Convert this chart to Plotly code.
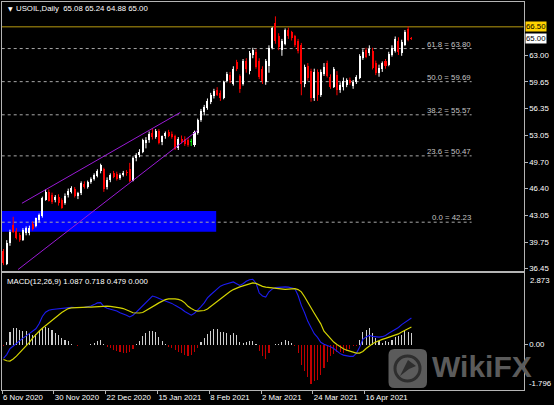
import plotly.graph_objects as go

W, H = 554, 405

# ---------------- data ----------------
tick_bars = [0, 16, 32, 48, 64, 80, 96, 112]
tick_labels = ["6 Nov 2020", "30 Nov 2020", "22 Dec 2020", "15 Jan 2021",
               "8 Feb 2021", "2 Mar 2021", "24 Mar 2021", "16 Apr 2021"]
price_ticks = [63.00, 59.65, 56.35, 53.05, 49.70, 46.40, 43.05, 39.75, 36.45]

opens = [38.6, 37.1, 39.6, 41.9, 41.1, 40.6, 40.0, 40.9, 40.9, 42.0,
         41.8, 42.5, 43.0, 45.0, 46.0, 45.6, 45.0, 45.4, 45.0, 44.6,
         45.6, 46.0, 46.3, 45.5, 45.9, 47.0, 46.6, 47.2, 47.6, 48.0,
         48.6, 48.9, 46.6, 47.5, 48.3, 48.2, 47.7, 48.1, 48.5, 48.9,
         47.4, 50.2, 50.6, 50.9, 52.1, 52.4, 53.3, 52.8, 53.6, 52.2,
         52.9, 53.4, 53.2, 52.9, 51.4, 52.6, 52.6, 52.4, 52.2, 51.8,
         53.3, 54.9, 55.9, 56.4, 57.2, 57.9, 58.7, 58.3, 57.7, 59.8,
         60.5, 59.4, 62.1, 60.4, 59.4, 62.3, 61.0, 63.0, 63.4, 62.3,
         61.3, 59.6, 61.6, 63.9, 67.0, 65.4, 63.6, 64.4, 66.1, 65.8,
         65.3, 64.8, 64.2, 59.4, 61.6, 61.0, 57.7, 60.9, 58.0, 60.7,
         62.0, 60.3, 59.0, 60.5, 58.7, 59.0, 59.3, 59.9, 59.2, 59.6,
         60.2, 62.6, 63.6, 63.2, 63.5, 62.0, 60.8, 61.2, 62.2, 61.8,
         63.0, 63.5, 64.8, 63.3, 64.3, 66.2, 65.08]
highs = [38.9, 40.0, 41.3, 42.9, 41.5, 40.9, 41.5, 41.7, 41.8, 42.3,
         42.8, 43.3, 45.4, 46.3, 46.3, 45.9, 45.6, 45.7, 45.2, 45.8,
         46.4, 46.7, 46.6, 46.0, 47.3, 47.3, 47.4, 47.8, 48.3, 48.8,
         49.5, 49.0, 47.8, 48.3, 48.6, 48.5, 48.3, 48.6, 48.7, 49.6,
         50.4, 50.8, 51.3, 52.6, 52.8, 53.5, 53.9, 53.8, 53.8, 53.0,
         53.5, 53.7, 53.5, 53.1, 52.8, 53.0, 52.9, 52.7, 52.6, 53.6,
         55.1, 56.3, 56.8, 57.6, 58.3, 58.8, 59.0, 58.6, 59.8, 60.9,
         60.9, 61.6, 62.4, 60.6, 62.5, 62.6, 63.5, 63.9, 63.7, 62.6,
         61.6, 62.5, 64.2, 66.5, 67.8, 65.7, 65.0, 66.3, 66.4, 66.0,
         65.5, 65.0, 64.5, 61.8, 62.0, 61.3, 61.3, 61.2, 61.2, 62.0,
         62.3, 60.6, 61.5, 61.0, 59.6, 60.2, 60.1, 60.2, 59.9, 60.5,
         63.1, 63.7, 63.9, 64.2, 63.9, 62.3, 61.8, 62.2, 62.5, 63.4,
         64.2, 65.3, 65.2, 64.9, 66.1, 66.55, 65.24]
lows = [36.9, 36.9, 39.3, 40.9, 40.1, 39.8, 39.9, 40.6, 40.6, 41.2,
        41.6, 42.2, 42.8, 44.9, 44.8, 44.5, 44.7, 44.3, 43.9, 44.4,
        45.3, 45.8, 45.3, 45.1, 45.6, 46.4, 46.4, 47.0, 47.4, 47.8,
        48.3, 46.0, 46.3, 47.2, 47.7, 47.4, 47.5, 47.9, 48.0, 47.2,
        47.3, 49.8, 50.3, 50.8, 51.4, 52.1, 52.5, 52.6, 51.9, 51.8,
        52.6, 52.8, 52.6, 51.2, 51.2, 52.0, 51.7, 51.6, 51.7, 51.6,
        53.1, 54.7, 55.5, 56.2, 56.9, 57.6, 57.9, 57.3, 57.5, 59.6,
        59.5, 59.2, 61.0, 58.3, 59.2, 60.8, 60.6, 62.6, 61.3, 60.0,
        59.4, 59.3, 60.8, 63.7, 64.4, 63.6, 62.9, 64.2, 65.0, 64.8,
        64.0, 63.2, 58.0, 59.0, 59.8, 57.2, 57.3, 57.3, 57.8, 60.4,
        60.2, 58.8, 58.9, 58.0, 58.3, 58.6, 59.0, 59.3, 58.8, 59.4,
        60.0, 62.4, 62.6, 62.9, 61.2, 60.5, 60.3, 60.9, 61.3, 61.6,
        62.8, 63.3, 63.0, 62.9, 64.1, 64.7, 64.88]
closes = [37.2, 39.7, 41.05, 41.05, 40.3, 40.0, 41.3, 41.5, 41.5, 41.4,
          42.7, 43.1, 45.2, 46.0, 44.9, 44.7, 45.4, 44.6, 44.0, 45.5,
          46.1, 46.5, 45.5, 45.8, 47.1, 46.6, 47.2, 47.6, 48.1, 48.6,
          49.3, 46.4, 47.5, 48.1, 47.9, 47.6, 48.1, 48.4, 48.3, 47.4,
          50.2, 50.6, 51.0, 52.4, 52.5, 53.2, 52.8, 53.6, 52.1, 52.9,
          53.3, 53.0, 52.8, 51.3, 52.6, 52.2, 51.9, 51.8, 52.2, 53.4,
          54.9, 56.0, 56.5, 57.3, 58.0, 58.5, 58.0, 57.6, 59.6, 60.6,
          59.9, 61.3, 61.3, 58.8, 62.3, 61.2, 63.3, 63.6, 61.5, 60.3,
          59.8, 62.2, 63.9, 66.3, 64.7, 64.0, 64.7, 66.1, 65.3, 65.1,
          64.2, 63.5, 59.4, 61.5, 60.2, 57.6, 60.9, 58.0, 60.9, 61.5,
          60.4, 59.0, 61.2, 58.6, 59.3, 59.8, 59.9, 59.5, 59.7, 60.3,
          62.9, 63.4, 62.8, 63.8, 61.4, 60.8, 61.4, 62.0, 61.6, 63.1,
          63.9, 65.0, 63.4, 64.6, 65.9, 64.9, 65.00]

macd_main = [-0.55, -0.40, -0.16, -0.05, 0.08, 0.18, 0.27, 0.36, 0.45, 0.55,
             0.65, 0.85, 1.15, 1.32, 1.40, 1.43, 1.45, 1.46, 1.48, 1.50,
             1.53, 1.52, 1.51, 1.50, 1.51, 1.52, 1.53, 1.57, 1.63, 1.70,
             1.71, 1.55, 1.48, 1.45, 1.41, 1.37, 1.30, 1.26, 1.20, 1.13,
             1.20, 1.32, 1.45, 1.60, 1.72, 1.85, 1.98, 1.94, 1.87, 1.83,
             1.78, 1.74, 1.68, 1.60, 1.53, 1.45, 1.35, 1.27, 1.20, 1.28,
             1.40, 1.55, 1.70, 1.90, 2.03, 2.15, 2.30, 2.38, 2.44, 2.48,
             2.52, 2.55, 2.48, 2.41, 2.48, 2.58, 2.64, 2.66, 2.50, 2.10,
             1.98, 1.94, 2.15, 2.26, 2.32, 2.34, 2.35, 2.35, 2.34, 2.32,
             2.28, 2.00, 1.60, 1.30, 0.95, 0.70, 0.45, 0.30, 0.10, 0.02,
             -0.02, -0.08, -0.15, -0.25, -0.36, -0.42, -0.46, -0.47, -0.47, -0.35,
             -0.10, 0.22, 0.32, 0.38, 0.34, 0.31, 0.31, 0.33, 0.38, 0.47,
             0.55, 0.62, 0.70, 0.82, 0.92, 1.02, 1.087]
macd_signal = [-0.60, -0.65, -0.66, -0.58, -0.46, -0.33, -0.17, -0.05, 0.10, 0.27,
               0.42, 0.55, 0.67, 0.78, 0.90, 1.01, 1.12, 1.22, 1.31, 1.39,
               1.47, 1.50, 1.51, 1.51, 1.52, 1.52, 1.53, 1.53, 1.54, 1.55,
               1.56, 1.57, 1.57, 1.56, 1.55, 1.53, 1.50, 1.47, 1.43, 1.36,
               1.30, 1.28, 1.29, 1.31, 1.38, 1.46, 1.54, 1.62, 1.70, 1.78,
               1.83, 1.86, 1.87, 1.86, 1.84, 1.80, 1.70, 1.56, 1.47, 1.40,
               1.37, 1.37, 1.39, 1.45, 1.55, 1.66, 1.77, 1.88, 1.98, 2.07,
               2.16, 2.24, 2.31, 2.35, 2.39, 2.43, 2.47, 2.51, 2.49, 2.42,
               2.37, 2.34, 2.32, 2.30, 2.28, 2.26, 2.25, 2.25, 2.26, 2.27,
               2.28, 2.24, 2.15, 1.95, 1.70, 1.50, 1.28, 1.05, 0.85, 0.55,
               0.40, 0.24, 0.11, 0.01, -0.09, -0.16, -0.22, -0.27, -0.32, -0.34,
               -0.34, -0.27, -0.15, -0.05, 0.04, 0.11, 0.18, 0.22, 0.26, 0.30,
               0.34, 0.40, 0.44, 0.52, 0.58, 0.64, 0.718]
macd_hist = [-0.05, 0.11, 0.51, 0.68, 0.68, 0.60, 0.57, 0.54, 0.46, 0.41,
             0.45, 0.54, 0.68, 0.74, 0.70, 0.61, 0.47, 0.38, 0.27, 0.20,
             0.14, 0.05, 0.01, -0.05, 0.0, 0.0, 0.01, 0.04, 0.08, 0.14,
             0.18, 0.05, -0.11, -0.15, -0.22, -0.27, -0.31, -0.34, -0.34, -0.31,
             -0.16, 0.05, 0.16, 0.34, 0.46, 0.54, 0.54, 0.51, 0.30, 0.14,
             0.03, -0.08, -0.14, -0.23, -0.30, -0.35, -0.41, -0.47, -0.43, -0.30,
             -0.14, 0.10, 0.27, 0.45, 0.57, 0.62, 0.65, 0.51, 0.51, 0.47,
             0.41, 0.47, 0.38, 0.11, 0.07, 0.11, 0.16, 0.16, 0.03, -0.27,
             -0.47, -0.57, -0.34, 0.0, 0.05, 0.05, 0.11, 0.18, 0.14, 0.07,
             -0.07, -0.34, -0.81, -1.08, -1.29, -1.60, -1.49, -1.42, -1.22, -0.95,
             -0.68, -0.47, -0.38, -0.30, -0.30, -0.34, -0.24, -0.16, -0.07, -0.03,
             0.20, 0.51, 0.61, 0.68, 0.47, 0.27, 0.16, 0.07, 0.14, 0.11,
             0.20, 0.30, 0.34, 0.41, 0.55, 0.52, 0.479]

fib_names = ["61.8", "50.0", "38.2", "23.6", "0.0"]
fib_levels = [63.80, 59.69, 55.57, 50.47, 42.23]
hline_level = 66.50
last_price = 65.00
channel_upper = [(5.7, 44.58), (54.6, 55.86)]
channel_lower = [(4.5, 36.35), (59.9, 53.62)]
zone_x = [-0.5, 65.7]
zone_y = [41.05, 43.62]
macd_max, macd_min = 2.873, -1.796
title_text = "USOIL,Daily  65.08 65.24 64.88 65.00"
macd_text = "MACD(12,26,9) 1.087 0.718 0.479 0.000"

# ---------------- layout geometry (pixels) ----------------
def px(x):
    return x / W

def py(y):
    return 1 - y / H

X_LEFT, X_RIGHT = 1.7, 523.7
BAR_PX = 3.2375
x_range = [-0.55, -0.55 + (X_RIGHT - X_LEFT) / BAR_PX]
MAIN_TOP, MAIN_BOT = 2.0, 270.5
MACD_TOP, MACD_BOT = 273.0, 390.0
PPU = 8.05
main_range = [63 - (MAIN_BOT - 55) / PPU, 63 + (55 - MAIN_TOP) / PPU]
mppu = (389 - 274) / (macd_max - macd_min)
macd_range = [macd_min - (MACD_BOT - 389) / mppu, macd_max + (274 - MACD_TOP) / mppu]

FONT = "Liberation Sans"
WHITE = "#ffffff"
RED = "#ff0000"

fig = go.Figure()

# ---------------- candles ----------------
groups = {"up": ([], [], []), "dn": ([], [], []), "dj": ([], [], [])}
wicks = {"up": ([], []), "dn": ([], []), "dj": ([], [])}
for i, (o, h, l, c) in enumerate(zip(opens, highs, lows, closes)):
    k = "up" if c > o else ("dn" if c < o else "dj")
    bx, bb, bh = groups[k]
    bx.append(i)
    bb.append(min(o, c))
    bh.append(max(abs(c - o), 0.09))
    wx, wy = wicks[k]
    wx += [i, i, None]
    wy += [l, h, None]

colors = {"up": WHITE, "dn": RED, "dj": "#00ff00"}
for k in ["up", "dn", "dj"]:
    wx, wy = wicks[k]
    fig.add_trace(go.Scatter(x=wx, y=wy, mode="lines", line=dict(color=colors[k], width=1),
                             xaxis="x", yaxis="y", showlegend=False, hoverinfo="skip"))
for k in ["up", "dn", "dj"]:
    bx, bb, bh = groups[k]
    fig.add_trace(go.Bar(x=bx, base=bb, y=bh, width=0.62, marker=dict(color=colors[k], line=dict(width=0)),
                         xaxis="x", yaxis="y", showlegend=False, hoverinfo="skip"))

# ---------------- MACD ----------------
idx = list(range(len(macd_hist)))
pos_x = [i for i in idx if macd_hist[i] >= 0]
neg_x = [i for i in idx if macd_hist[i] < 0]
fig.add_trace(go.Bar(x=pos_x, y=[macd_hist[i] for i in pos_x], width=0.34,
                     marker=dict(color="#cfcfcf", line=dict(width=0)),
                     xaxis="x2", yaxis="y2", showlegend=False, hoverinfo="skip"))
fig.add_trace(go.Bar(x=neg_x, y=[macd_hist[i] for i in neg_x], width=0.34,
                     marker=dict(color="#c00000", line=dict(width=0)),
                     xaxis="x2", yaxis="y2", showlegend=False, hoverinfo="skip"))
fig.add_trace(go.Scatter(x=idx, y=macd_main, mode="lines", line=dict(color="#1c1cf0", width=1.1),
                         xaxis="x2", yaxis="y2", showlegend=False, hoverinfo="skip"))
fig.add_trace(go.Scatter(x=idx, y=macd_signal, mode="lines", line=dict(color="#d4d400", width=1.2),
                         xaxis="x2", yaxis="y2", showlegend=False, hoverinfo="skip"))

# ---------------- shapes ----------------
shapes = []
shapes.append(dict(type="rect", xref="x", yref="y", x0=zone_x[0], x1=zone_x[1], y0=zone_y[0], y1=zone_y[1],
                   fillcolor="#0000ff", line=dict(width=0), layer="below"))
fib_end = 144.6
for lv in fib_levels:
    shapes.append(dict(type="line", xref="x", yref="y", x0=x_range[0], x1=fib_end, y0=lv, y1=lv,
                       line=dict(color="#a8a8a8", width=1, dash="3px,3px"), layer="below"))
shapes.append(dict(type="line", xref="x", yref="y", x0=x_range[0], x1=x_range[1], y0=hline_level, y1=hline_level,
                   line=dict(color="#b89a10", width=1), layer="below"))
for seg in (channel_upper, channel_lower):
    shapes.append(dict(type="line", xref="x", yref="y", x0=seg[0][0], y0=seg[0][1], x1=seg[1][0], y1=seg[1][1],
                       line=dict(color="#9a1ad6", width=1), layer="above"))


# watermark logo (rounded square)
def rrect(x0, y0, x1, y1, r):
    X0, X1 = px(x0), px(x1)
    Y0, Y1 = py(y0), py(y1)
    rx, ry = r / W, r / H
    return (f"M {X0+rx},{Y0} L {X1-rx},{Y0} Q {X1},{Y0} {X1},{Y0-ry} "
            f"L {X1},{Y1+ry} Q {X1},{Y1} {X1-rx},{Y1} L {X0+rx},{Y1} "
            f"Q {X0},{Y1} {X0},{Y1+ry} L {X0},{Y0-ry} Q {X0},{Y0} {X0+rx},{Y0} Z")

shapes.append(dict(type="path", xref="paper", yref="paper", path=rrect(388.5, 349, 427, 388, 6),
                   fillcolor="#5b5b5b", line=dict(width=0), layer="above"))
shapes.append(dict(type="circle", xref="paper", yref="paper", x0=px(395), x1=px(420), y0=py(381), y1=py(356),
                   fillcolor="rgba(0,0,0,0)", line=dict(color="#2e2e2e", width=3), layer="above"))
shapes.append(dict(type="path", xref="paper", yref="paper",
                   path=f"M {px(400)},{py(376)} L {px(408)},{py(360)} L {px(416)},{py(366)} L {px(409)},{py(369)} Z",
                   fillcolor="#2e2e2e", line=dict(width=0), layer="above"))

# ---------------- annotations ----------------
ann = []
ann.append(dict(xref="paper", yref="paper", x=px(5.5), y=py(8.5), text="▼", showarrow=False,
                xanchor="left", yanchor="middle", font=dict(family="DejaVu Sans", size=6, color=WHITE)))
ann.append(dict(xref="paper", yref="paper", x=px(14), y=py(8.5), text=title_text, showarrow=False,
                xanchor="left", yanchor="middle", font=dict(family=FONT, size=7.8, color=WHITE)))
ann.append(dict(xref="paper", yref="paper", x=px(5), y=py(281), text=macd_text, showarrow=False,
                xanchor="left", yanchor="middle", font=dict(family=FONT, size=7.8, color=WHITE)))
for name, lv in zip(fib_names, fib_levels):
    ann.append(dict(xref="x", yref="y", x=fib_end, y=lv, text=f"{name} = {lv:.2f}", showarrow=False,
                    xanchor="right", yanchor="bottom", yshift=-1, borderpad=0,
                    font=dict(family=FONT, size=7.8, color="#c4c4c4")))
ann.append(dict(xref="paper", yref="y", x=px(524.5), y=hline_level, text=f"{hline_level:.2f}", showarrow=False,
                xanchor="left", yanchor="middle", bgcolor="#ffd200", borderpad=0,
                font=dict(family=FONT, size=7.8, color="#000000")))
ann.append(dict(xref="paper", yref="y", x=px(524.5), y=last_price, text=f"{last_price:.2f}", showarrow=False,
                xanchor="left", yanchor="middle", bgcolor="#ffffff", borderpad=0,
                font=dict(family=FONT, size=7.8, color="#000000")))
ann.append(dict(xref="paper", yref="y2", x=px(527.5), y=macd_max, text=f"{macd_max:.3f}", showarrow=False,
                xanchor="left", yanchor="top", font=dict(family=FONT, size=7.8, color=WHITE)))
ann.append(dict(xref="paper", yref="y2", x=px(527.5), y=macd_min, text=f"{macd_min:.3f}", showarrow=False,
                xanchor="left", yanchor="bottom", borderpad=0, font=dict(family=FONT, size=7.8, color=WHITE)))
ann.append(dict(xref="paper", yref="paper", x=px(431), y=py(366), text="<b>WikiFX</b>", showarrow=False,
                xanchor="left", yanchor="middle", borderpad=0,
                font=dict(family=FONT, size=30, color="#5b5b5b")))

frame = "#b4b4b4"
xdom = [px(X_LEFT), px(X_RIGHT)]
fig.update_layout(
    width=W, height=H, margin=dict(l=0, r=0, t=0, b=0),
    paper_bgcolor="#000000", plot_bgcolor="#000000",
    barmode="overlay", bargap=0, showlegend=False, template="none",
    shapes=shapes, annotations=ann,
    xaxis=dict(domain=xdom, range=x_range, anchor="y", matches="x2", showgrid=False, zeroline=False,
               showticklabels=False, ticks="", showline=True, mirror=True, linecolor=frame, linewidth=1,
               automargin=False, fixedrange=True),
    yaxis=dict(domain=[py(MAIN_BOT), py(MAIN_TOP)], range=main_range, anchor="x", side="right",
               showgrid=False, zeroline=False, tickvals=price_ticks, ticktext=[f"{v:.2f}" for v in price_ticks],
               ticks="outside", ticklen=3, tickcolor=frame, tickfont=dict(family=FONT, size=7.8, color=WHITE),
               showline=True, mirror=True, linecolor=frame, linewidth=1, automargin=False),
    xaxis2=dict(domain=xdom, range=x_range, anchor="y2", showgrid=False, zeroline=False,
                tickvals=[b - 0.45 for b in tick_bars], ticktext=tick_labels, ticks="outside", ticklen=3,
                tickangle=0, tickcolor=frame, ticklabelposition="outside right",
                tickfont=dict(family=FONT, size=7.8, color=WHITE),
                showline=True, mirror=True, linecolor=frame, linewidth=1, automargin=False),
    yaxis2=dict(domain=[py(MACD_BOT), py(MACD_TOP)], range=macd_range, anchor="x2", side="right",
                showgrid=False, zeroline=False, tickvals=[0], ticktext=["0.00"], ticks="outside", ticklen=3,
                tickcolor=frame, tickfont=dict(family=FONT, size=7.8, color=WHITE),
                showline=True, mirror=True, linecolor=frame, linewidth=1, automargin=False),
)

fig.write_html("out.html", config={"staticPlot": True},
               post_script="document.body.style.margin='0';document.body.style.padding='0';"
                           "document.body.style.background='#000';document.body.style.overflow='hidden';")
